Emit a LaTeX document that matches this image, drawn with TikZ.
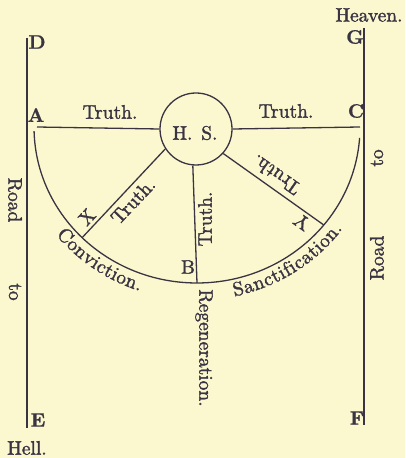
\documentclass[tikz,border=0pt]{standalone}
\usetikzlibrary{decorations.text,calc}
\font\hvyfont="[lmroman10-regular.otf]:embolden=1.6" at 19.5pt
\font\hvybold="[lmroman10-bold.otf]:embolden=0.8" at 19.5pt
\newcommand\fsz{\hvyfont}
\definecolor{paper}{RGB}{251,248,208}
\definecolor{ink}{RGB}{58,52,66}
\begin{document}
\begin{tikzpicture}[x=1pt,y=1pt,
  lbl/.style={text=ink,font=\fsz,inner sep=0pt},
  blbl/.style={text=ink,font=\hvybold,inner sep=0pt},
  rule/.style={draw=ink,line width=1.3pt}]
\fill[paper] (0,0) rectangle (405,458);
\useasboundingbox (0,0) rectangle (405,458);

% key points
\coordinate (D) at (27,420);
\coordinate (E) at (27,30);
\coordinate (G) at (364,430);
\coordinate (F) at (364,33);
\coordinate (A) at (37,331);
\coordinate (C) at (360,331);
\coordinate (ctr) at (197,331);
\coordinate (B) at (197,175);
\coordinate (X) at (82.2,220.4);
\coordinate (Y) at (323.8,233.0);

% Holy Spirit circle
\node[circle,draw=ink,line width=1.3pt,minimum size=72pt,inner sep=0pt] (HS) at (196,329) {};
\node[lbl] (hstext) at (195,325) {H.\hspace{0.45em}S.};

% roads
\draw[rule] (D) -- (E);
\draw[rule] (G) -- (F);

% truth lines
\draw[rule] (A) -- (HS.west);
\draw[rule] (HS.east) -- (C);
\draw[rule] (HS.213) -- (X);
\draw[rule] (HS.318) -- (Y);
\draw[rule] (HS.265) -- (B);

% semicircle
\draw[rule] ($(ctr)+(181.5:163pt and 156pt)$) arc[start angle=181.5,end angle=356,x radius=163pt,y radius=156pt];

% arc texts
\path[decorate,decoration={text along path,text color=ink,text align=fit to path,
  text={|\fsz|Conviction.}}]
  ($(ctr)+(218.5:180pt and 173pt)$) arc[start angle=218.5,end angle=251.5,x radius=180pt,y radius=173pt];
\path[decorate,decoration={text along path,text color=ink,text align=fit to path,
  text={|\fsz|Sanctification.}}]
  ($(ctr)+(282:180pt and 173pt)$) arc[start angle=282,end angle=324,x radius=180pt,y radius=173pt];

% letter labels
\node[blbl] (lD) at (37,416) {D};
\node[blbl] (lA) at (36,343) {A};
\node[blbl] (lE) at (38,38) {E};
\node[blbl] (lG) at (355,421) {G};
\node[blbl] (lC) at (356,347) {C};
\node[blbl] (lF) at (357,40) {F};
\node[lbl] (lB) at (188,191) {B};
\node[lbl,rotate=46.5] (lX) at (87,241) {X};
\node[lbl,rotate=145] (lY) at (302,236) {Y};

% words
\node[lbl] (heaven) at (369,443) {Heaven.};
\node[lbl] (hell) at (27,10) {Hell.};
\node[lbl] (t1) at (110,346) {Truth.};
\node[lbl] (t2) at (286,347) {Truth.};
\node[lbl,rotate=46.5] (t3) at (133,257) {Truth.};
\node[lbl,rotate=145] (t4) at (276,283) {Truth.};
\node[lbl,rotate=90] (t5) at (205,239) {Truth.};
\node[lbl,rotate=-90] (regen) at (204,110) {Regeneration.};
\node[lbl,rotate=-90] (road1) at (15,258) {Road};
\node[lbl,rotate=-90] (to1) at (15,166) {to};
\node[lbl,rotate=90] (to2) at (377,300) {to};
\node[lbl,rotate=90] (road2) at (377,200) {Road};
\end{tikzpicture}
\end{document}
